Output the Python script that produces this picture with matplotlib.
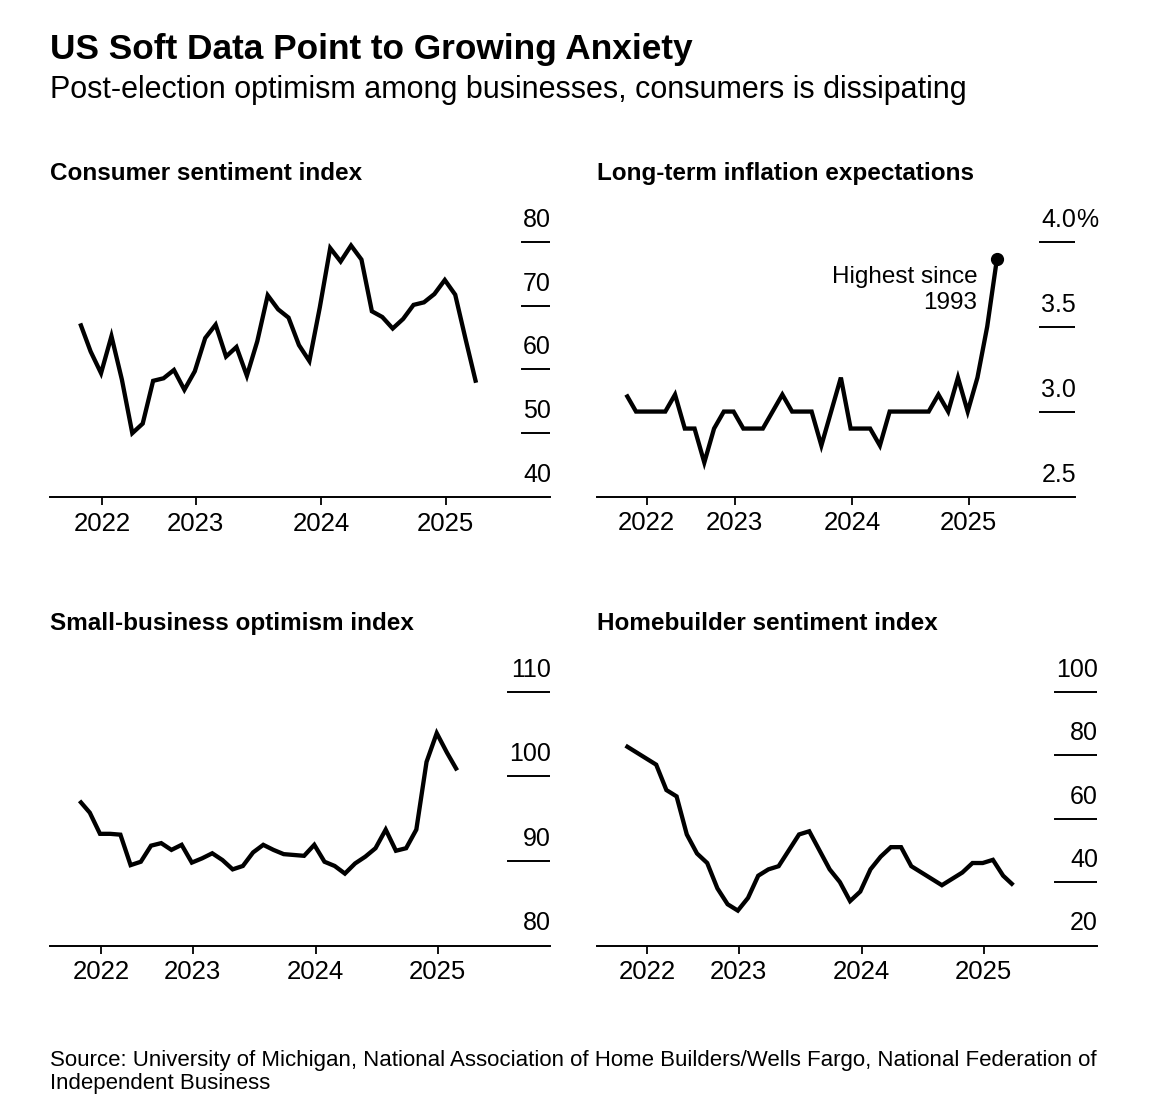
import numpy as np
import matplotlib
matplotlib.use("Agg")
import matplotlib.pyplot as plt
from matplotlib.transforms import offset_copy

plt.rcParams['font.family'] = ['Liberation Sans', 'DejaVu Sans']

# monthly readings, Jan 2022 onward (index 0 = Jan 2022)
consumer = [67.2, 62.8, 59.4, 65.2, 58.4, 50.0, 51.5, 58.2, 58.6, 59.9, 56.8, 59.7,
            64.9, 67.0, 62.0, 63.5, 59.0, 64.4, 71.6, 69.4, 68.1, 63.8, 61.3, 69.7,
            79.0, 76.9, 79.4, 77.2, 69.1, 68.2, 66.4, 67.9, 70.1, 70.5, 71.8, 74.0,
            71.7, 64.7, 57.9]
inflation = [3.1, 3.0, 3.0, 3.0, 3.0, 3.1, 2.9, 2.9, 2.7, 2.9, 3.0, 3.0,
             2.9, 2.9, 2.9, 3.0, 3.1, 3.0, 3.0, 3.0, 2.8, 3.0, 3.2, 2.9,
             2.9, 2.9, 2.8, 3.0, 3.0, 3.0, 3.0, 3.0, 3.1, 3.0, 3.2, 3.0,
             3.2, 3.5, 3.9]
nfib = [97.1, 95.7, 93.2, 93.2, 93.1, 89.5, 89.9, 91.8, 92.1, 91.3, 91.9, 89.8,
        90.3, 90.9, 90.1, 89.0, 89.4, 91.0, 91.9, 91.3, 90.8, 90.7, 90.6, 91.9,
        89.9, 89.4, 88.5, 89.7, 90.5, 91.5, 93.7, 91.2, 91.5, 93.7, 101.7, 105.1,
        102.8, 100.7]
nahb = [83, 81, 79, 77, 69, 67, 55, 49, 46, 38, 33, 31,
        35, 42, 44, 45, 50, 55, 56, 50, 44, 40, 34, 37,
        44, 48, 51, 51, 45, 43, 41, 39, 41, 43, 46, 46,
        47, 42, 39]

year_labels = ['2022', '2023', '2024', '2025']
year_pos = [2.1, 11.1, 23.15, 35.1]

W, H = 1175, 1118
fig = plt.figure(figsize=(W / 100, H / 100), dpi=100)
fig.patch.set_facecolor('white')


def px_axes(left, top, right, bottom):
    return fig.add_axes([left / W, 1 - bottom / H, (right - left) / W, (bottom - top) / H])


panels = [
    # title, data, yticks, suffix, box (l, t, r, b), xlim
    ('Consumer sentiment index', consumer, [40, 50, 60, 70, 80], '', (50, 205, 550, 497), (-2.9, 45.1)),
    ('Long-term inflation expectations', inflation, [2.5, 3.0, 3.5, 4.0], '%', (597, 205, 1075, 496.5), (-3.0, 46.0)),
    ('Small-business optimism index', nfib, [80, 90, 100, 110], '', (50, 655, 550, 945.5), (-2.9, 46.1)),
    ('Homebuilder sentiment index', nahb, [20, 40, 60, 80, 100], '', (597, 655, 1097, 945.5), (-2.8, 46.2)),
]

axes = []
for title, data, yt, suffix, box, xl in panels:
    ax = px_axes(*box)
    l, t, r, b = box
    h = b - t
    lo, hi = yt[0], yt[-1]
    ax.set_ylim(lo, lo + (hi - lo) * h / (h - 36.7))
    ax.set_xlim(*xl)
    x = np.arange(len(data))
    ax.plot(x, data, color='black', lw=3.1, solid_joinstyle='miter', solid_capstyle='butt')
    for s in ['top', 'left', 'right']:
        ax.spines[s].set_visible(False)
    ax.spines['bottom'].set_linewidth(1.4)
    ax.set_yticks([])
    ax.set_xticks(year_pos)
    ax.set_xticklabels(year_labels, fontsize=18.5)
    ax.tick_params(axis='x', length=5.5, width=1.3, pad=5)
    ax.patch.set_alpha(0)

    # y labels above short rules on the right
    trans = offset_copy(ax.get_yaxis_transform(), fig=fig, x=1, y=15, units='dots')
    labs = []
    for v in yt:
        s = ('%g' % v) if suffix == '' else ('%.1f' % v)
        labs.append(ax.text(1.0, v, s, transform=trans, ha='right', va='baseline', fontsize=18))
    if suffix:
        ax.text(1.0, yt[-1], suffix, transform=trans, ha='left', va='baseline', fontsize=18)
    fig.text(l / W, 1 - (t - 25) / H, title, fontsize=17.5, fontweight='bold', va='baseline')
    axes.append((ax, labs, yt, box))

fig.canvas.draw()
rend = fig.canvas.get_renderer()
for ax, labs, yt, box in axes:
    wmax = max(tx.get_window_extent(rend).width for tx in labs)
    frac = wmax / (box[2] - box[0])
    for v in yt[1:]:
        ax.axhline(v, xmin=1 - frac, xmax=1, color='black', lw=1.4)

# annotation on inflation panel
ax2 = axes[1][0]
n2 = len(inflation) - 1
ax2.plot([n2], [inflation[-1]], 'o', color='black', ms=8.5)
ax2.annotate('Highest since\n1993', xy=(n2, inflation[-1]), xytext=(-14, -5),
             textcoords='offset points', ha='right', va='top', fontsize=17.5,
             linespacing=1.25)

fig.text(50 / W, 1 - 59 / H, 'US Soft Data Point to Growing Anxiety', fontsize=25.4,
         fontweight='bold', va='baseline')
fig.text(50 / W, 1 - 98 / H, 'Post-election optimism among businesses, consumers is dissipating',
         fontsize=22, va='baseline')
fig.text(50 / W, 1 - 1089 / H,
         'Source: University of Michigan, National Association of Home Builders/Wells Fargo, National Federation of\nIndependent Business',
         fontsize=16, va='baseline', linespacing=1.15)

fig.savefig('out.png', dpi=100)
